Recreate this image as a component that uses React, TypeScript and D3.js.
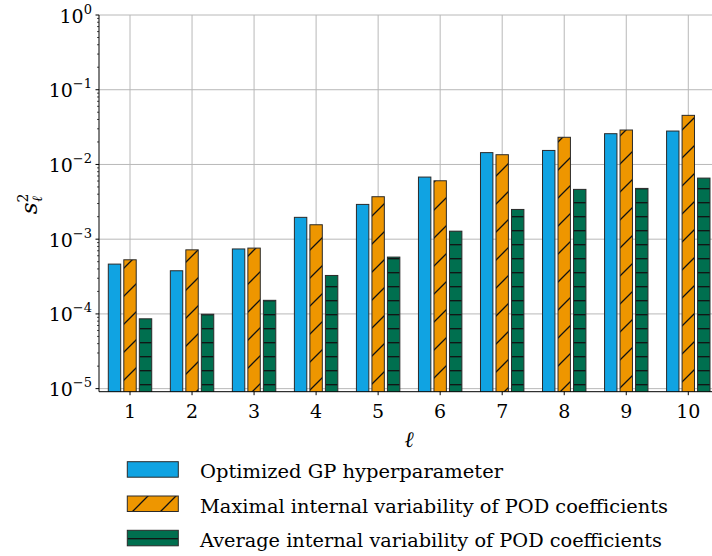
import React from "react";
import * as d3 from "d3";

const categories = [1, 2, 3, 4, 5, 6, 7, 8, 9, 10];
const optimizedGP = [4.64e-4, 3.78e-4, 7.4e-4, 1.96e-3, 2.92e-3, 6.78e-3, 1.44e-2, 1.54e-2, 2.58e-2, 2.8e-2];
const maximalVar = [5.3e-4, 7.2e-4, 7.6e-4, 1.56e-3, 3.7e-3, 6.05e-3, 1.35e-2, 2.31e-2, 2.89e-2, 4.54e-2];
const averageVar = [8.6e-5, 9.9e-5, 1.52e-4, 3.27e-4, 5.76e-4, 1.28e-3, 2.5e-3, 4.64e-3, 4.78e-3, 6.57e-3];
const seriesLabels = [
  "Optimized GP hyperparameter",
  "Maximal internal variability of POD coefficients",
  "Average internal variability of POD coefficients",
];
const yTickExponents = [0, -1, -2, -3, -4, -5];

const W = 712;
const H = 556;
const FONT = "DejaVu Serif";
const COLORS = ["#10A3E2", "#EE9600", "#006F4F"];
const FILLS = [COLORS[0], "url(#hatchSlash)", "url(#hatchDash)"];
const EDGE = "#2a2a2a";
const GRID = "#b8b8b8";

export default function App() {
  const left = 99;
  const top = 15;
  const bottom = 391.7;
  const x = d3.scaleLinear().domain([0.5, 10.5]).range([left, left + 62.03 * 10]);
  const y = d3.scaleLog().domain([9.1e-6, 1]).range([bottom, top]);
  const series = [optimizedGP, maximalVar, averageVar];
  const offsets = [-0.25, 0, 0.25];
  const bw = 0.2;
  const right = x(10.5);

  const minorTicks: number[] = [];
  for (let e = -6; e < 0; e++) {
    for (let m = 2; m <= 9; m++) {
      const v = m * Math.pow(10, e);
      if (v >= 9.1e-6 && v <= 1) minorTicks.push(v);
    }
  }

  const legendTextLen = [303, 468, 462];

  return (
    <div style={{ position: "absolute", left: 0, top: 0, width: W, height: H, fontFamily: FONT }}>
    <svg width={W} height={H} fontFamily={FONT} style={{ display: "block", background: "#fff" }}>
      <defs>
        <pattern id="hatchSlash" patternUnits="userSpaceOnUse" width={28} height={28}>
          <rect width={28} height={28} fill={COLORS[1]} />
          <path d="M0,28 L28,0 M-7,7 L7,-7 M21,35 L35,21" stroke="#111" strokeWidth={1.3} />
        </pattern>
        <pattern id="hatchDash" patternUnits="userSpaceOnUse" width={14} height={14}>
          <rect width={14} height={14} fill={COLORS[2]} />
          <line x1={0} x2={14} y1={6.7} y2={6.7} stroke="#111" strokeWidth={1.3} />
        </pattern>
        <clipPath id="plotClip">
          <rect x={left} y={top} width={right - left} height={bottom - top} />
        </clipPath>
      </defs>

      <g stroke={GRID} strokeWidth={1}>
        {categories.map((c) => (
          <line key={"gx" + c} x1={x(c)} x2={x(c)} y1={top} y2={bottom} />
        ))}
        {yTickExponents.map((e) => (
          <line key={"gy" + e} x1={left} x2={right} y1={y(Math.pow(10, e))} y2={y(Math.pow(10, e))} />
        ))}
      </g>

      <g clipPath="url(#plotClip)">
        {series.map((vals, si) =>
          vals.map((v, i) => {
            const cx = x(categories[i] + offsets[si]);
            const w = x(bw) - x(0);
            const x0 = cx - w / 2;
            return (
              <rect
                key={`b${si}-${i}`}
                x={x0}
                y={y(v)}
                width={w}
                height={bottom - y(v) + 2}
                fill={FILLS[si]}
                stroke={EDGE}
                strokeWidth={1}
              />
            );
          })
        )}
      </g>

      <line x1={left} x2={left} y1={top} y2={bottom} stroke="#000" strokeWidth={1} />
      <line x1={left} x2={right} y1={bottom} y2={bottom} stroke="#000" strokeWidth={1} />

      <g stroke="#000">
        {yTickExponents.map((e) => (
          <line key={"yt" + e} x1={left - 3.5} x2={left} y1={y(Math.pow(10, e))} y2={y(Math.pow(10, e))} strokeWidth={1} />
        ))}
        {minorTicks.map((v, i) => (
          <line key={"ym" + i} x1={left - 2} x2={left} y1={y(v)} y2={y(v)} strokeWidth={0.7} />
        ))}
      </g>
      <g fill="#000">
        {yTickExponents.map((e) => (
          <text key={"yl" + e} x={92} y={y(Math.pow(10, e)) + 7.5} textAnchor="end" fontSize={19}>
            <tspan>10</tspan>
            <tspan dy={-9} fontSize={13}>{e === 0 ? "0" : "\u2212" + Math.abs(e)}</tspan>
          </text>
        ))}
      </g>

      <g>
        {categories.map((c) => (
          <g key={"xt" + c}>
            <line x1={x(c)} x2={x(c)} y1={bottom} y2={bottom + 3.5} stroke="#000" />
            <text x={x(c)} y={418} textAnchor="middle" fontSize={19}>
              {c}
            </text>
          </g>
        ))}
      </g>

      <text x={409} y={447} textAnchor="middle" fontSize={22} fontStyle="italic">
        ℓ
      </text>
      <g transform="translate(37,199) rotate(-90)">
        <text x={-5} y={0} textAnchor="middle" fontSize={23} fontStyle="italic">
          <tspan>s</tspan>
          <tspan dy={-9} fontSize={14} fontStyle="normal">2</tspan>
          <tspan dx={-8} dy={14} fontSize={14}>ℓ</tspan>
        </text>
      </g>

      {seriesLabels.map((lab, i) => {
        const ly = 461.7 + i * 34.3;
        return (
          <g key={"lg" + i}>
            <rect x={127.3} y={ly} width={51} height={15.5} fill={FILLS[i]} stroke={EDGE} strokeWidth={1} />
            <text
              x={200}
              y={ly + 16.5}
              fontSize={18}
              textLength={legendTextLen[i]}
              lengthAdjust="spacingAndGlyphs"
            >
              {lab}
            </text>
          </g>
        );
      })}
    </svg>
    </div>
  );
}
